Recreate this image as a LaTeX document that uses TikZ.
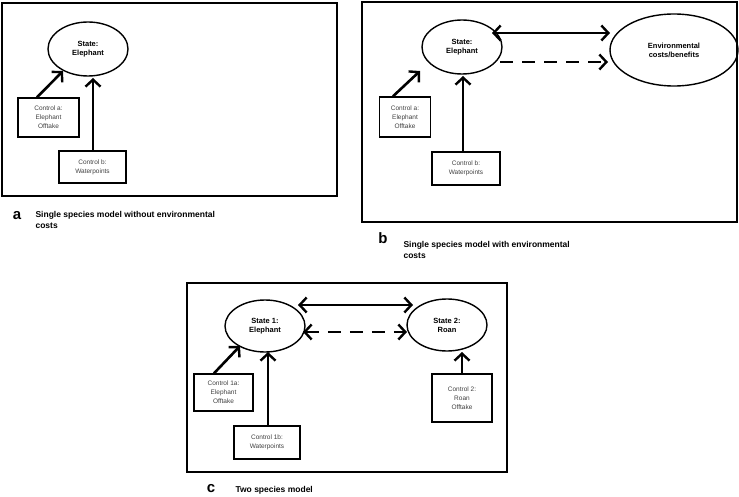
\documentclass[tikz,border=0pt]{standalone}
\usepackage{fontspec}
\setmainfont{Liberation Sans}
\usetikzlibrary{arrows.meta,shapes.geometric}
\begin{document}
\begin{tikzpicture}[x=1pt,y=-1pt,
  frame/.style={draw,line width=1.6pt},
  st/.style={draw,ellipse,line width=1.4pt,inner sep=0pt,font=\bfseries\fontsize{7.5}{9}\selectfont,align=center},
  ctl/.style={draw,line width=1.4pt,inner sep=0pt,font=\fontsize{6.5}{9}\selectfont,align=center,text=black!75},
  ar/.style={line width=2.6pt,-{Straight Barb[length=7pt,width=15pt,line width=2.4pt]}},
  dar/.style={line width=2.6pt,{Straight Barb[length=7pt,width=15pt,line width=2.4pt]}-{Straight Barb[length=7pt,width=15pt,line width=2.4pt]}},
  captxt/.style={anchor=west,font=\bfseries\fontsize{8.5}{11}\selectfont,align=left},
  lett/.style={font=\bfseries\fontsize{15}{15}\selectfont}]
\useasboundingbox (0,0) rectangle (739,497);
% panel a
\draw[frame] (2,3) rectangle (337,196);
\node[st,minimum width=80pt,minimum height=54pt] (ea) at (88,49) {State:\\Elephant};
\node[ctl,minimum width=61pt,minimum height=39pt] (ca) at (48.5,117.5) {Control a:\\Elephant\\Offtake};
\node[ctl,minimum width=67pt,minimum height=32pt] (cb) at (92.5,167) {Control b:\\Waterpoints};
\draw[ar] (ca.north -| 37,0) -- (63,71);
\draw[ar] (cb.north -| 93,0) -- (93,78);
\node[lett] (la) at (17,216) {a};
\node[captxt] (ta) at (32,220) {Single species model without environmental\\costs};
% panel b
\draw[frame] (362,2) rectangle (737,222);
\node[st,minimum width=80pt,minimum height=54pt] (eb) at (462,47) {State:\\Elephant};
\node[st,minimum width=128pt,minimum height=72pt] (env) at (674,50) {Environmental\\costs/benefits};
\node[ctl,minimum width=51pt,minimum height=40pt] (cab) at (405,117) {Control a:\\Elephant\\Offtake};
\node[ctl,minimum width=68pt,minimum height=33pt] (cbb) at (466,168.5) {Control b:\\Waterpoints};
\draw[dar] (492,33) -- (610,33);
\draw[ar,dash pattern=on 13pt off 9pt] (500,62) -- (608,62);
\draw[ar] (cab.north -| 393,0) -- (420,71);
\draw[ar] (cbb.north -| 463,0) -- (463,76);
\node[lett] (lb) at (383,238) {b};
\node[captxt] (tb) at (400,250) {Single species model with environmental\\costs};
% panel c
\draw[frame] (187,283) rectangle (507,472);
\node[st,minimum width=80pt,minimum height=52pt] (e1) at (265,326) {State 1:\\Elephant};
\node[st,minimum width=80pt,minimum height=52pt] (e2) at (447,325) {State 2:\\Roan};
\node[ctl,minimum width=59pt,minimum height=37pt] (c1a) at (223.5,392.5) {Control 1a:\\Elephant\\Offtake};
\node[ctl,minimum width=66pt,minimum height=33pt] (c1b) at (267,442.5) {Control 1b:\\Waterpoints};
\node[ctl,minimum width=60pt,minimum height=48pt] (c2) at (462,398) {Control 2:\\Roan\\Offtake};
\draw[dar] (298,305) -- (413,305);
\draw[dar,dash pattern=on 13pt off 9pt] (303,332) -- (407,332);
\draw[ar] (c1a.north -| 214,0) -- (240,346);
\draw[ar] (c1b.north -| 268,0) -- (268,352);
\draw[ar] (c2.north) -- (462,352);
\node[lett] (lc) at (211,489) {c};
\node[captxt] (tc) at (232,490) {Two species model};
\end{tikzpicture}
\end{document}
